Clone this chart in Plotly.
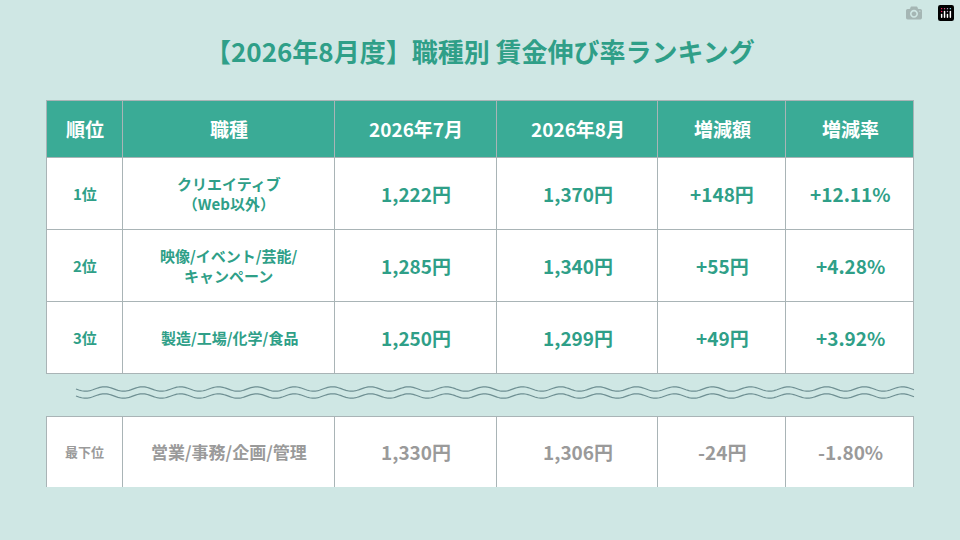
import numpy as np
import plotly.graph_objects as go

headers = ["順位", "職種", "2026年7月", "2026年8月", "増減額", "増減率"]
ranks = ["1位", "2位", "3位"]
jobs = ["クリエイティブ<br>（Web以外）", "映像/イベント/芸能/<br>キャンペーン", "製造/工場/化学/食品"]
wage_jul = ["1,222円", "1,285円", "1,250円"]
wage_aug = ["1,370円", "1,340円", "1,299円"]
diff_yen = ["+148円", "+55円", "+49円"]
diff_pct = ["+12.11%", "+4.28%", "+3.92%"]

last_row = ["最下位", "営業/事務/企画/管理", "1,330円", "1,306円", "-24円", "-1.80%"]

W, H = 960, 540
col_widths = [77, 212, 162, 161, 128, 128]
X0, X1 = 46, 914
HEAD_TOP, HEAD_H, ROW_H = 100, 57, 72
LAST_TOP, LAST_H = 416, 71

TEAL = "#2f9f88"
HEAD = "#3aab96"
GREY = "#9a9a9a"
LINE = "#a9b4b6"
FONT = "Noto Sans CJK JP"

col_edges = np.concatenate([[X0], X0 + np.cumsum(col_widths)])
col_centers = (col_edges[:-1] + col_edges[1:]) / 2


def ydom(top, bottom):
    return [1 - bottom / H, 1 - top / H]


fig = go.Figure()

# grid and fills only; text is placed as annotations so it can be centred vertically
fig.add_trace(go.Table(
    domain={"x": [X0 / W, X1 / W], "y": ydom(HEAD_TOP, HEAD_TOP + HEAD_H + 3 * ROW_H + 1)},
    columnwidth=col_widths,
    header={"values": [""] * 6, "fill_color": HEAD, "line_color": LINE, "height": HEAD_H},
    cells={"values": [[""] * 3] * 6, "fill_color": "white", "line_color": LINE, "height": ROW_H},
))
fig.add_trace(go.Table(
    domain={"x": [X0 / W, X1 / W], "y": ydom(LAST_TOP, LAST_TOP + LAST_H + 1)},
    columnwidth=col_widths,
    header={"values": [""] * 6, "height": 0, "line_width": 0, "fill_color": "rgba(0,0,0,0)"},
    cells={"values": [[""]] * 6, "fill_color": "white", "line_color": LINE, "height": LAST_H},
))

body_cols = [ranks, jobs, wage_jul, wage_aug, diff_yen, diff_pct]
body_sizes = [15, 15, 19, 19, 19, 19]
last_sizes = [13, 17, 19, 19, 19, 19]


def put(text, x, y, size, color):
    fig.add_annotation(text=f"<b>{text}</b>", x=x, y=y, xref="x", yref="y", showarrow=False,
                       font={"family": FONT, "size": size, "color": color})


for c, h in enumerate(headers):
    put(h, col_centers[c], HEAD_TOP + HEAD_H / 2, 19, "white")
for c, col in enumerate(body_cols):
    for r, v in enumerate(col):
        put(v, col_centers[c], HEAD_TOP + HEAD_H + ROW_H * (r + 0.5), body_sizes[c], TEAL)
for c, v in enumerate(last_row):
    put(v, col_centers[c], LAST_TOP + LAST_H / 2, last_sizes[c], GREY)

# wavy separator lines (decoration)
xs = np.linspace(76, 914, 600)
for y0 in (389, 396):
    ys = y0 + 2.2 * np.sin((xs - 76) / 38 * 2 * np.pi)
    path = "M " + " L ".join(f"{x:.1f},{y:.2f}" for x, y in zip(xs, ys))
    fig.add_shape(type="path", path=path, xref="x", yref="y",
                  line={"color": "#6e8f92", "width": 1.2})

put("【2026年8月度】職種別 賃金伸び率ランキング", 480, 50, 26, TEAL)

fig.update_layout(
    width=W, height=H,
    margin={"l": 0, "r": 0, "t": 0, "b": 0},
    paper_bgcolor="#cfe7e4",
    plot_bgcolor="rgba(0,0,0,0)",
    xaxis={"range": [0, W], "visible": False, "fixedrange": True},
    yaxis={"range": [H, 0], "visible": False, "fixedrange": True},
    showlegend=False,
)

fig.write_html("out.html", post_script="document.body.style.margin='0';")
